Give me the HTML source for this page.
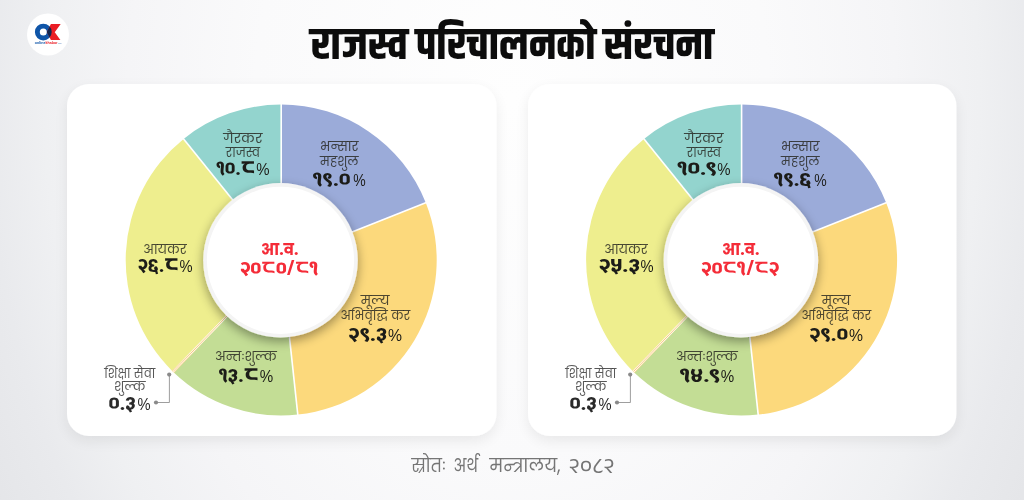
<!DOCTYPE html>
<html lang="ne"><head><meta charset="utf-8"><title>राजस्व परिचालनको संरचना</title>
<style>html,body{margin:0;padding:0;background:#eeeff0}body{width:1024px;height:500px;overflow:hidden}svg{display:block}</style></head>
<body>
<svg width="1024" height="500" viewBox="0 0 1024 500">
<defs>
<radialGradient id="bg" gradientUnits="userSpaceOnUse" cx="512" cy="100" r="640" gradientTransform="translate(512 100) scale(1 1.4) translate(-512 -100)">
<stop offset="0" stop-color="#fefefe"/><stop offset="0.4" stop-color="#fafafb"/><stop offset="0.6" stop-color="#f5f5f7"/><stop offset="0.73" stop-color="#eff0f2"/><stop offset="0.82" stop-color="#e9eaed"/><stop offset="1" stop-color="#e1e2e5"/></radialGradient>
<filter id="cardsh" x="-10%" y="-10%" width="120%" height="120%"><feGaussianBlur in="SourceAlpha" stdDeviation="7"/><feOffset dy="5"/><feComponentTransfer><feFuncA type="linear" slope="0.075"/></feComponentTransfer><feMerge><feMergeNode/><feMergeNode in="SourceGraphic"/></feMerge></filter>
<filter id="cs" x="-20%" y="-20%" width="140%" height="140%"><feGaussianBlur in="SourceAlpha" stdDeviation="5.5"/><feOffset dy="4"/><feComponentTransfer><feFuncA type="linear" slope="0.38"/></feComponentTransfer><feMerge><feMergeNode/><feMergeNode in="SourceGraphic"/></feMerge></filter>
</defs>
<rect width="1024" height="500" fill="url(#bg)"/>
<circle cx="48" cy="34.5" r="21" fill="#fff"/>
<g>
<clipPath id="kc"><path d="M46.85 32.1L50.9 24.06H60.7L54.75 32.2L60.4 40.1H50.9Z"/></clipPath>
<circle cx="43.3" cy="32.05" r="5.95" fill="none" stroke="#0f55a8" stroke-width="4.9"/>
<path d="M46.85 32.1L50.9 24.06H60.7L54.75 32.2L60.4 40.1H50.9Z" fill="#ea1d25"/>
<circle cx="43.3" cy="32.05" r="5.95" fill="none" stroke="#10264f" stroke-width="4.9" clip-path="url(#kc)"/>
<text x="34.8" y="44.2" font-family="'Liberation Sans',sans-serif" font-weight="700" font-size="3.2" fill="#0f55a8" textLength="27" lengthAdjust="spacingAndGlyphs">online<tspan fill="#ea1d25">khabar</tspan><tspan font-size="1.8" font-weight="400" fill="#5a86c0">.com</tspan></text>
</g>
<rect x="67" y="84" width="429.4" height="352" rx="22" fill="#fff" filter="url(#cardsh)"/>
<rect x="528" y="84" width="428.4" height="352" rx="22" fill="#fff" filter="url(#cardsh)"/>
<text x="310.45" y="58.50" textLength="402.85" lengthAdjust="spacingAndGlyphs" font-family="'Khand','Teko','Akshar','Anek Devanagari','Mukta','Noto Sans Devanagari','Lohit Devanagari','FreeSans','Liberation Sans',sans-serif" font-weight="700" font-size="45" fill="#0c0c0c" lang="ne">राजस्व परिचालनको संरचना</text>
<path d="M281.20 104.50A155.5 155.5 0 0 1 425.78 202.76L340.71 236.44A64 64 0 0 0 281.20 196.00Z" fill="#9babd9"/>
<path d="M425.78 202.76A155.5 155.5 0 0 1 297.78 414.61L288.02 323.64A64 64 0 0 0 340.71 236.44Z" fill="#fcd97c"/>
<path d="M297.78 414.61A155.5 155.5 0 0 1 174.04 372.68L237.10 306.38A64 64 0 0 0 288.02 323.64Z" fill="#c3dd95"/>
<path d="M174.04 372.68A155.5 155.5 0 0 1 171.94 370.64L236.23 305.54A64 64 0 0 0 237.10 306.38Z" fill="#f7b94a"/>
<path d="M171.94 370.64A155.5 155.5 0 0 1 183.59 138.95L241.03 210.18A64 64 0 0 0 236.23 305.54Z" fill="#eeee8e"/>
<path d="M183.59 138.95A155.5 155.5 0 0 1 281.20 104.50L281.20 196.00A64 64 0 0 0 241.03 210.18Z" fill="#93d4ce"/>
<line x1="281.20" y1="196.00" x2="281.20" y2="103.90" stroke="#fff" stroke-width="1.6"/>
<line x1="340.71" y1="236.44" x2="426.34" y2="202.54" stroke="#fff" stroke-width="1.6"/>
<line x1="288.02" y1="323.64" x2="297.84" y2="415.21" stroke="#fff" stroke-width="1.6"/>
<line x1="241.03" y1="210.18" x2="183.22" y2="138.48" stroke="#fff" stroke-width="1.6"/>
<line x1="236.66" y1="305.96" x2="172.71" y2="371.96" stroke="#fff" stroke-width="2.1"/>
<line x1="236.66" y1="305.96" x2="172.99" y2="371.67" stroke="#f7b94a" stroke-width="0.7"/>
<circle cx="280.5" cy="260.3" r="77.3" fill="#f4f4f4" filter="url(#cs)"/>
<circle cx="280.5" cy="260.3" r="73.6" fill="#fff"/>
<text x="261.10" y="254.90" textLength="37.40" lengthAdjust="spacingAndGlyphs" font-family="'Poppins','Mukta','Anek Devanagari','Noto Sans Devanagari','Lohit Devanagari','FreeSans','Liberation Sans',sans-serif" font-weight="700" font-size="15.5" fill="#f42c38" lang="ne">आ.व.</text>
<text x="240.25" y="274.90" textLength="78.25" lengthAdjust="spacingAndGlyphs" font-family="'Akshar','Anek Devanagari','Baloo 2','Mukta','Noto Sans Devanagari','Lohit Devanagari','FreeSans','Liberation Sans',sans-serif" font-weight="600" font-size="19.8" fill="#f42c38" lang="ne">२०<tspan font-family="'Anek Devanagari','Mukta','Noto Sans Devanagari','Lohit Devanagari','FreeSans','Liberation Sans',sans-serif" font-weight="500" font-size="24.6" lang="hi">८</tspan>०/<tspan font-family="'Anek Devanagari','Mukta','Noto Sans Devanagari','Lohit Devanagari','FreeSans','Liberation Sans',sans-serif" font-weight="500" font-size="24.6" lang="hi">८</tspan>१</text>
<text x="223.25" y="142.80" textLength="39.15" lengthAdjust="spacingAndGlyphs" font-family="'Poppins','Anek Devanagari','Mukta','Noto Sans Devanagari','Lohit Devanagari','FreeSans','Liberation Sans',sans-serif" font-weight="400" font-size="13.5" fill="#262620" lang="ne" fill-opacity="0.82">गैरकर</text>
<text x="225.75" y="157.20" textLength="34.15" lengthAdjust="spacingAndGlyphs" font-family="'Poppins','Anek Devanagari','Mukta','Noto Sans Devanagari','Lohit Devanagari','FreeSans','Liberation Sans',sans-serif" font-weight="400" font-size="13.5" fill="#262620" lang="ne" fill-opacity="0.82">राजस्व</text>
<text x="216.50" y="175.00" textLength="38.90" lengthAdjust="spacingAndGlyphs" font-family="'Akshar','Anek Devanagari','Baloo 2','Mukta','Noto Sans Devanagari','Lohit Devanagari','FreeSans','Liberation Sans',sans-serif" font-weight="600" font-size="19.5" fill="#1c1c18" lang="ne">१०.<tspan font-family="'Anek Devanagari','Mukta','Noto Sans Devanagari','Lohit Devanagari','FreeSans','Liberation Sans',sans-serif" font-weight="600" font-size="24.765" lang="hi">८</tspan></text><text x="256.30" y="175.00" textLength="13.30" lengthAdjust="spacingAndGlyphs" font-family="'Liberation Sans',sans-serif" font-weight="400" font-size="16.3" fill="#1c1c18" lang="ne">%</text>
<text x="320.10" y="150.80" textLength="38.50" lengthAdjust="spacingAndGlyphs" font-family="'Poppins','Anek Devanagari','Mukta','Noto Sans Devanagari','Lohit Devanagari','FreeSans','Liberation Sans',sans-serif" font-weight="400" font-size="13.5" fill="#262620" lang="ne" fill-opacity="0.82">भन्सार</text>
<text x="320.10" y="165.55" textLength="38.50" lengthAdjust="spacingAndGlyphs" font-family="'Poppins','Anek Devanagari','Mukta','Noto Sans Devanagari','Lohit Devanagari','FreeSans','Liberation Sans',sans-serif" font-weight="400" font-size="13.5" fill="#262620" lang="ne" fill-opacity="0.82">महशुल</text>
<text x="313.10" y="185.60" textLength="37.30" lengthAdjust="spacingAndGlyphs" font-family="'Akshar','Anek Devanagari','Baloo 2','Mukta','Noto Sans Devanagari','Lohit Devanagari','FreeSans','Liberation Sans',sans-serif" font-weight="600" font-size="19.5" fill="#1c1c18" lang="ne">१९.०</text><text x="353.15" y="185.60" textLength="12.45" lengthAdjust="spacingAndGlyphs" font-family="'Liberation Sans',sans-serif" font-weight="400" font-size="16.3" fill="#1c1c18" lang="ne">%</text>
<text x="143.25" y="254.30" textLength="43.50" lengthAdjust="spacingAndGlyphs" font-family="'Poppins','Anek Devanagari','Mukta','Noto Sans Devanagari','Lohit Devanagari','FreeSans','Liberation Sans',sans-serif" font-weight="400" font-size="13.5" fill="#262620" lang="ne" fill-opacity="0.82">आयकर</text>
<text x="138.10" y="271.90" textLength="40.80" lengthAdjust="spacingAndGlyphs" font-family="'Akshar','Anek Devanagari','Baloo 2','Mukta','Noto Sans Devanagari','Lohit Devanagari','FreeSans','Liberation Sans',sans-serif" font-weight="600" font-size="19.5" fill="#1c1c18" lang="ne">२६.<tspan font-family="'Anek Devanagari','Mukta','Noto Sans Devanagari','Lohit Devanagari','FreeSans','Liberation Sans',sans-serif" font-weight="600" font-size="24.765" lang="hi">८</tspan></text><text x="179.40" y="271.90" textLength="13.10" lengthAdjust="spacingAndGlyphs" font-family="'Liberation Sans',sans-serif" font-weight="400" font-size="16.3" fill="#1c1c18" lang="ne">%</text>
<text x="360.75" y="304.80" textLength="28.75" lengthAdjust="spacingAndGlyphs" font-family="'Poppins','Anek Devanagari','Mukta','Noto Sans Devanagari','Lohit Devanagari','FreeSans','Liberation Sans',sans-serif" font-weight="400" font-size="13.5" fill="#262620" lang="ne" fill-opacity="0.82">मूल्य</text>
<text x="340.50" y="319.80" textLength="69.75" lengthAdjust="spacingAndGlyphs" font-family="'Poppins','Anek Devanagari','Mukta','Noto Sans Devanagari','Lohit Devanagari','FreeSans','Liberation Sans',sans-serif" font-weight="400" font-size="13.5" fill="#262620" lang="ne" fill-opacity="0.82">अभिवृद्धि कर</text>
<text x="348.60" y="340.50" textLength="38.30" lengthAdjust="spacingAndGlyphs" font-family="'Akshar','Anek Devanagari','Baloo 2','Mukta','Noto Sans Devanagari','Lohit Devanagari','FreeSans','Liberation Sans',sans-serif" font-weight="600" font-size="19.5" fill="#1c1c18" lang="ne">२९.३</text><text x="387.90" y="340.50" textLength="14.00" lengthAdjust="spacingAndGlyphs" font-family="'Liberation Sans',sans-serif" font-weight="400" font-size="16.3" fill="#1c1c18" lang="ne">%</text>
<text x="215.10" y="361.40" textLength="61.65" lengthAdjust="spacingAndGlyphs" font-family="'Poppins','Anek Devanagari','Mukta','Noto Sans Devanagari','Lohit Devanagari','FreeSans','Liberation Sans',sans-serif" font-weight="400" font-size="13.5" fill="#262620" lang="ne" fill-opacity="0.82">अन्तःशुल्क</text>
<text x="219.00" y="382.25" textLength="39.90" lengthAdjust="spacingAndGlyphs" font-family="'Akshar','Anek Devanagari','Baloo 2','Mukta','Noto Sans Devanagari','Lohit Devanagari','FreeSans','Liberation Sans',sans-serif" font-weight="600" font-size="19.5" fill="#1c1c18" lang="ne">१३.<tspan font-family="'Anek Devanagari','Mukta','Noto Sans Devanagari','Lohit Devanagari','FreeSans','Liberation Sans',sans-serif" font-weight="600" font-size="24.765" lang="hi">८</tspan></text><text x="259.65" y="382.25" textLength="13.45" lengthAdjust="spacingAndGlyphs" font-family="'Liberation Sans',sans-serif" font-weight="400" font-size="16.3" fill="#1c1c18" lang="ne">%</text>
<text x="104.25" y="378.30" textLength="51.00" lengthAdjust="spacingAndGlyphs" font-family="'Poppins','Anek Devanagari','Mukta','Noto Sans Devanagari','Lohit Devanagari','FreeSans','Liberation Sans',sans-serif" font-weight="400" font-size="13.5" fill="#333" lang="ne" fill-opacity="0.82">शिक्षा सेवा</text>
<text x="113.90" y="391.05" textLength="31.60" lengthAdjust="spacingAndGlyphs" font-family="'Poppins','Anek Devanagari','Mukta','Noto Sans Devanagari','Lohit Devanagari','FreeSans','Liberation Sans',sans-serif" font-weight="400" font-size="13.5" fill="#333" lang="ne" fill-opacity="0.82">शुल्क</text>
<text x="108.75" y="410.00" textLength="26.90" lengthAdjust="spacingAndGlyphs" font-family="'Akshar','Anek Devanagari','Baloo 2','Mukta','Noto Sans Devanagari','Lohit Devanagari','FreeSans','Liberation Sans',sans-serif" font-weight="600" font-size="19.5" fill="#2a2a2a" lang="ne">०.३</text><text x="137.50" y="410.00" textLength="13.10" lengthAdjust="spacingAndGlyphs" font-family="'Liberation Sans',sans-serif" font-weight="400" font-size="16.3" fill="#2a2a2a" lang="ne">%</text>
<path d="M169.4 374.6V402.5H156" fill="none" stroke="#858585" stroke-width="0.8"/>
<circle cx="169.2" cy="374.6" r="2.1" fill="#8a8a8a"/><circle cx="156" cy="402.5" r="2.1" fill="#8a8a8a"/>
<path d="M741.60 104.50A155.5 155.5 0 0 1 886.18 202.76L801.11 236.44A64 64 0 0 0 741.60 196.00Z" fill="#9babd9"/>
<path d="M886.18 202.76A155.5 155.5 0 0 1 758.18 414.61L748.42 323.64A64 64 0 0 0 801.11 236.44Z" fill="#fcd97c"/>
<path d="M758.18 414.61A155.5 155.5 0 0 1 634.44 372.68L697.50 306.38A64 64 0 0 0 748.42 323.64Z" fill="#c3dd95"/>
<path d="M634.44 372.68A155.5 155.5 0 0 1 632.34 370.64L696.63 305.54A64 64 0 0 0 697.50 306.38Z" fill="#f7b94a"/>
<path d="M632.34 370.64A155.5 155.5 0 0 1 643.99 138.95L701.43 210.18A64 64 0 0 0 696.63 305.54Z" fill="#eeee8e"/>
<path d="M643.99 138.95A155.5 155.5 0 0 1 741.60 104.50L741.60 196.00A64 64 0 0 0 701.43 210.18Z" fill="#93d4ce"/>
<line x1="741.60" y1="196.00" x2="741.60" y2="103.90" stroke="#fff" stroke-width="1.6"/>
<line x1="801.11" y1="236.44" x2="886.74" y2="202.54" stroke="#fff" stroke-width="1.6"/>
<line x1="748.42" y1="323.64" x2="758.24" y2="415.21" stroke="#fff" stroke-width="1.6"/>
<line x1="701.43" y1="210.18" x2="643.62" y2="138.48" stroke="#fff" stroke-width="1.6"/>
<line x1="697.06" y1="305.96" x2="633.11" y2="371.96" stroke="#fff" stroke-width="2.1"/>
<line x1="697.06" y1="305.96" x2="633.39" y2="371.67" stroke="#f7b94a" stroke-width="0.7"/>
<circle cx="740.9" cy="260.3" r="77.3" fill="#f4f4f4" filter="url(#cs)"/>
<circle cx="740.9" cy="260.3" r="73.6" fill="#fff"/>
<text x="722.10" y="254.90" textLength="37.40" lengthAdjust="spacingAndGlyphs" font-family="'Poppins','Mukta','Anek Devanagari','Noto Sans Devanagari','Lohit Devanagari','FreeSans','Liberation Sans',sans-serif" font-weight="700" font-size="15.5" fill="#f42c38" lang="ne">आ.व.</text>
<text x="701.25" y="274.90" textLength="78.25" lengthAdjust="spacingAndGlyphs" font-family="'Akshar','Anek Devanagari','Baloo 2','Mukta','Noto Sans Devanagari','Lohit Devanagari','FreeSans','Liberation Sans',sans-serif" font-weight="600" font-size="19.8" fill="#f42c38" lang="ne">२०<tspan font-family="'Anek Devanagari','Mukta','Noto Sans Devanagari','Lohit Devanagari','FreeSans','Liberation Sans',sans-serif" font-weight="500" font-size="24.6" lang="hi">८</tspan>१/<tspan font-family="'Anek Devanagari','Mukta','Noto Sans Devanagari','Lohit Devanagari','FreeSans','Liberation Sans',sans-serif" font-weight="500" font-size="24.6" lang="hi">८</tspan>२</text>
<text x="684.25" y="142.80" textLength="39.15" lengthAdjust="spacingAndGlyphs" font-family="'Poppins','Anek Devanagari','Mukta','Noto Sans Devanagari','Lohit Devanagari','FreeSans','Liberation Sans',sans-serif" font-weight="400" font-size="13.5" fill="#262620" lang="ne" fill-opacity="0.82">गैरकर</text>
<text x="686.75" y="157.20" textLength="34.15" lengthAdjust="spacingAndGlyphs" font-family="'Poppins','Anek Devanagari','Mukta','Noto Sans Devanagari','Lohit Devanagari','FreeSans','Liberation Sans',sans-serif" font-weight="400" font-size="13.5" fill="#262620" lang="ne" fill-opacity="0.82">राजस्व</text>
<text x="677.50" y="175.00" textLength="38.90" lengthAdjust="spacingAndGlyphs" font-family="'Akshar','Anek Devanagari','Baloo 2','Mukta','Noto Sans Devanagari','Lohit Devanagari','FreeSans','Liberation Sans',sans-serif" font-weight="600" font-size="19.5" fill="#1c1c18" lang="ne">१०.९</text><text x="717.30" y="175.00" textLength="13.30" lengthAdjust="spacingAndGlyphs" font-family="'Liberation Sans',sans-serif" font-weight="400" font-size="16.3" fill="#1c1c18" lang="ne">%</text>
<text x="781.10" y="150.80" textLength="38.50" lengthAdjust="spacingAndGlyphs" font-family="'Poppins','Anek Devanagari','Mukta','Noto Sans Devanagari','Lohit Devanagari','FreeSans','Liberation Sans',sans-serif" font-weight="400" font-size="13.5" fill="#262620" lang="ne" fill-opacity="0.82">भन्सार</text>
<text x="781.10" y="165.55" textLength="38.50" lengthAdjust="spacingAndGlyphs" font-family="'Poppins','Anek Devanagari','Mukta','Noto Sans Devanagari','Lohit Devanagari','FreeSans','Liberation Sans',sans-serif" font-weight="400" font-size="13.5" fill="#262620" lang="ne" fill-opacity="0.82">महशुल</text>
<text x="774.10" y="185.60" textLength="37.30" lengthAdjust="spacingAndGlyphs" font-family="'Akshar','Anek Devanagari','Baloo 2','Mukta','Noto Sans Devanagari','Lohit Devanagari','FreeSans','Liberation Sans',sans-serif" font-weight="600" font-size="19.5" fill="#1c1c18" lang="ne">१९.६</text><text x="814.15" y="185.60" textLength="12.45" lengthAdjust="spacingAndGlyphs" font-family="'Liberation Sans',sans-serif" font-weight="400" font-size="16.3" fill="#1c1c18" lang="ne">%</text>
<text x="604.25" y="254.30" textLength="43.50" lengthAdjust="spacingAndGlyphs" font-family="'Poppins','Anek Devanagari','Mukta','Noto Sans Devanagari','Lohit Devanagari','FreeSans','Liberation Sans',sans-serif" font-weight="400" font-size="13.5" fill="#262620" lang="ne" fill-opacity="0.82">आयकर</text>
<text x="599.10" y="271.90" textLength="40.80" lengthAdjust="spacingAndGlyphs" font-family="'Akshar','Anek Devanagari','Baloo 2','Mukta','Noto Sans Devanagari','Lohit Devanagari','FreeSans','Liberation Sans',sans-serif" font-weight="600" font-size="19.5" fill="#1c1c18" lang="ne">२५.३</text><text x="640.40" y="271.90" textLength="13.10" lengthAdjust="spacingAndGlyphs" font-family="'Liberation Sans',sans-serif" font-weight="400" font-size="16.3" fill="#1c1c18" lang="ne">%</text>
<text x="821.75" y="304.80" textLength="28.75" lengthAdjust="spacingAndGlyphs" font-family="'Poppins','Anek Devanagari','Mukta','Noto Sans Devanagari','Lohit Devanagari','FreeSans','Liberation Sans',sans-serif" font-weight="400" font-size="13.5" fill="#262620" lang="ne" fill-opacity="0.82">मूल्य</text>
<text x="801.50" y="319.80" textLength="69.75" lengthAdjust="spacingAndGlyphs" font-family="'Poppins','Anek Devanagari','Mukta','Noto Sans Devanagari','Lohit Devanagari','FreeSans','Liberation Sans',sans-serif" font-weight="400" font-size="13.5" fill="#262620" lang="ne" fill-opacity="0.82">अभिवृद्धि कर</text>
<text x="809.60" y="340.50" textLength="38.30" lengthAdjust="spacingAndGlyphs" font-family="'Akshar','Anek Devanagari','Baloo 2','Mukta','Noto Sans Devanagari','Lohit Devanagari','FreeSans','Liberation Sans',sans-serif" font-weight="600" font-size="19.5" fill="#1c1c18" lang="ne">२९.०</text><text x="848.90" y="340.50" textLength="14.00" lengthAdjust="spacingAndGlyphs" font-family="'Liberation Sans',sans-serif" font-weight="400" font-size="16.3" fill="#1c1c18" lang="ne">%</text>
<text x="676.10" y="361.40" textLength="61.65" lengthAdjust="spacingAndGlyphs" font-family="'Poppins','Anek Devanagari','Mukta','Noto Sans Devanagari','Lohit Devanagari','FreeSans','Liberation Sans',sans-serif" font-weight="400" font-size="13.5" fill="#262620" lang="ne" fill-opacity="0.82">अन्तःशुल्क</text>
<text x="680.00" y="382.25" textLength="39.90" lengthAdjust="spacingAndGlyphs" font-family="'Akshar','Anek Devanagari','Baloo 2','Mukta','Noto Sans Devanagari','Lohit Devanagari','FreeSans','Liberation Sans',sans-serif" font-weight="600" font-size="19.5" fill="#1c1c18" lang="ne">१४.९</text><text x="720.65" y="382.25" textLength="13.45" lengthAdjust="spacingAndGlyphs" font-family="'Liberation Sans',sans-serif" font-weight="400" font-size="16.3" fill="#1c1c18" lang="ne">%</text>
<text x="565.25" y="378.30" textLength="51.00" lengthAdjust="spacingAndGlyphs" font-family="'Poppins','Anek Devanagari','Mukta','Noto Sans Devanagari','Lohit Devanagari','FreeSans','Liberation Sans',sans-serif" font-weight="400" font-size="13.5" fill="#333" lang="ne" fill-opacity="0.82">शिक्षा सेवा</text>
<text x="574.90" y="391.05" textLength="31.60" lengthAdjust="spacingAndGlyphs" font-family="'Poppins','Anek Devanagari','Mukta','Noto Sans Devanagari','Lohit Devanagari','FreeSans','Liberation Sans',sans-serif" font-weight="400" font-size="13.5" fill="#333" lang="ne" fill-opacity="0.82">शुल्क</text>
<text x="569.75" y="410.00" textLength="26.90" lengthAdjust="spacingAndGlyphs" font-family="'Akshar','Anek Devanagari','Baloo 2','Mukta','Noto Sans Devanagari','Lohit Devanagari','FreeSans','Liberation Sans',sans-serif" font-weight="600" font-size="19.5" fill="#2a2a2a" lang="ne">०.३</text><text x="598.50" y="410.00" textLength="13.10" lengthAdjust="spacingAndGlyphs" font-family="'Liberation Sans',sans-serif" font-weight="400" font-size="16.3" fill="#2a2a2a" lang="ne">%</text>
<path d="M630.4 374.6V402.5H617" fill="none" stroke="#858585" stroke-width="0.8"/>
<circle cx="630.2" cy="374.6" r="2.1" fill="#8a8a8a"/><circle cx="617" cy="402.5" r="2.1" fill="#8a8a8a"/>
<text x="411.50" y="472.30" textLength="34.25" lengthAdjust="spacingAndGlyphs" font-family="'Poppins','Anek Devanagari','Mukta','Noto Sans Devanagari','Lohit Devanagari','FreeSans','Liberation Sans',sans-serif" font-weight="400" font-size="19.2" fill="#757575" lang="ne">स्रोतः</text>
<text x="453.50" y="472.30" textLength="24.50" lengthAdjust="spacingAndGlyphs" font-family="'Poppins','Anek Devanagari','Mukta','Noto Sans Devanagari','Lohit Devanagari','FreeSans','Liberation Sans',sans-serif" font-weight="400" font-size="19.2" fill="#757575" lang="ne">अर्थ</text>
<text x="489.50" y="472.30" textLength="71.00" lengthAdjust="spacingAndGlyphs" font-family="'Poppins','Anek Devanagari','Mukta','Noto Sans Devanagari','Lohit Devanagari','FreeSans','Liberation Sans',sans-serif" font-weight="400" font-size="19.2" fill="#757575" lang="ne">मन्त्रालय,</text>
<text x="568.75" y="472.60" textLength="45.75" lengthAdjust="spacingAndGlyphs" font-family="'Anek Devanagari','Mukta','Noto Sans Devanagari','Lohit Devanagari','FreeSans','Liberation Sans',sans-serif" font-weight="400" font-size="21.5" fill="#757575" lang="ne">२०८२</text>
</svg>
</body></html>
